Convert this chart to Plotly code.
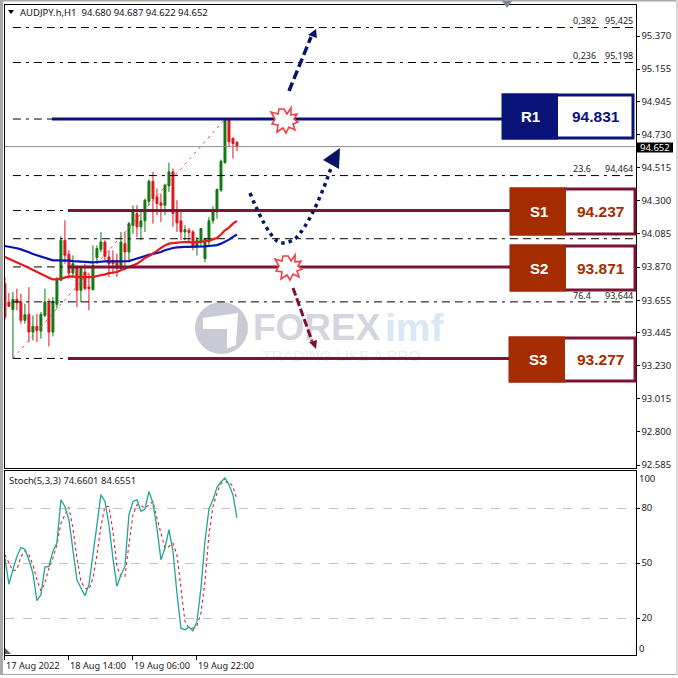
import plotly.graph_objects as go

W = H = 678
OPEN = [93.762,93.643,93.595,93.660,93.643,93.524,93.563,93.448,93.485,93.454,93.556,93.636,93.448,93.628,93.784,94.044,93.953,93.831,93.860,93.719,93.838,93.740,93.723,93.931,93.985,94.033,93.936,93.914,93.914,93.860,94.022,93.968,94.141,94.217,94.131,94.170,94.297,94.427,94.326,94.287,94.271,94.397,94.488,94.228,94.170,94.098,94.109,94.098,94.007,94.033,93.925,94.033,94.170,94.228,94.369,94.547,94.824,94.707,94.680]
HIGH = [93.805,93.701,93.708,93.730,93.697,93.632,93.740,93.556,93.567,93.578,93.730,93.665,93.675,93.805,94.070,94.174,93.979,93.946,93.881,93.860,93.892,93.827,94.011,94.011,94.098,94.044,93.979,93.979,93.957,94.098,94.098,94.163,94.271,94.271,94.228,94.315,94.438,94.488,94.380,94.347,94.412,94.547,94.510,94.304,94.228,94.141,94.124,94.109,94.066,94.120,94.055,94.196,94.265,94.380,94.568,94.824,94.824,94.707,94.687]
LOW = [93.524,93.615,93.275,93.589,93.502,93.502,93.383,93.394,93.383,93.405,93.545,93.355,93.420,93.600,93.784,93.892,93.795,93.805,93.610,93.643,93.719,93.589,93.719,93.892,93.968,93.914,93.805,93.827,93.805,93.849,93.849,93.914,94.087,94.066,94.044,94.098,94.271,94.152,94.206,94.163,94.206,94.358,94.131,94.098,94.044,94.044,94.033,93.979,93.946,94.001,93.903,94.001,94.152,94.185,94.358,94.542,94.651,94.575,94.622]
CLOSE = [93.545,93.615,93.660,93.639,93.524,93.561,93.448,93.485,93.459,93.563,93.643,93.448,93.643,93.784,94.044,93.946,93.831,93.892,93.719,93.860,93.730,93.730,93.881,93.990,94.033,93.940,93.892,93.892,93.860,94.033,93.968,94.152,94.228,94.131,94.170,94.304,94.427,94.315,94.282,94.271,94.401,94.488,94.217,94.157,94.098,94.113,94.094,94.001,94.044,94.120,94.055,94.170,94.228,94.373,94.557,94.824,94.683,94.672,94.652]
MA_BLUE = [94.007,94.003,93.998,93.992,93.985,93.977,93.966,93.955,93.946,93.938,93.929,93.920,93.914,93.914,93.914,93.914,93.912,93.909,93.907,93.905,93.903,93.901,93.901,93.903,93.907,93.907,93.907,93.907,93.907,93.907,93.907,93.909,93.918,93.927,93.936,93.942,93.949,93.955,93.961,93.968,93.979,93.988,93.994,93.998,94.001,94.001,94.001,94.001,94.001,94.001,94.005,94.007,94.009,94.013,94.022,94.033,94.048,94.066,94.081]
MA_RED = [93.936,93.923,93.909,93.899,93.888,93.877,93.864,93.849,93.836,93.825,93.814,93.801,93.790,93.790,93.795,93.803,93.810,93.808,93.805,93.805,93.805,93.805,93.805,93.812,93.816,93.823,93.831,93.836,93.838,93.849,93.860,93.866,93.877,93.892,93.909,93.929,93.942,93.957,93.975,93.994,94.011,94.022,94.027,94.029,94.031,94.033,94.033,94.029,94.031,94.033,94.037,94.042,94.048,94.059,94.081,94.109,94.126,94.152,94.170]
STOCH_MAIN = [52.7,38.5,46.4,53.6,58.5,57.6,51.8,44.5,29.5,32.7,47.8,48.2,56.4,60.9,84.5,80.9,73.6,56.4,40.9,36.4,32.2,38.2,54.5,70.9,87.3,83.6,70.9,52.7,37.3,43.6,48.2,76.4,83.6,84.5,78.2,79.5,89.1,82.7,69.1,51.8,58.2,68.2,56.4,33.6,14.5,13.6,15.1,13.1,18.2,36.4,61.8,79.6,84.5,91.3,94.2,96.4,92.7,87.3,74.66]
STOCH_SIGNAL = [54.5,50.0,45.8,46.4,53.6,56.7,54.5,49.1,40.9,34.9,39.1,47.3,52.7,60.0,71.8,76.4,80.4,69.1,52.7,40.0,36.4,35.5,41.8,54.5,70.0,80.9,80.9,67.3,48.2,42.7,42.7,60.0,76.4,81.8,81.5,80.0,81.8,83.6,74.5,65.5,58.2,59.1,60.9,54.5,34.5,18.2,14.5,14.5,16.0,22.7,40.0,65.5,80.9,88.2,93.6,94.2,94.5,91.8,84.66]
PRICE_TICKS = ["95.370","95.155","94.945","94.730","94.515","94.300","94.085","93.870","93.655","93.445","93.230","93.015","92.800","92.585"]
TIME_TICKS = [0, 16, 32, 48]
TIME_LABELS = ["17 Aug 2022", "18 Aug 14:00", "19 Aug 06:00", "19 Aug 22:00"]
FIBO_LEVELS = [95.425, 95.198, 94.831, 94.464, 94.237, 94.054, 93.871, 93.644, 93.277]
FIBO_TEXT = [("0,382","95,425",95.425),("0,236","95,198",95.198),("23.6","94,464",94.464),("50.0","94,054",94.054),("76.4","93,644",93.644)]
LEVEL_NAMES = ["R1", "S1", "S2", "S3"]
LEVEL_VALUES = [94.831, 94.237, 93.871, 93.277]
LAST_PRICE = 94.652
TITLE = "AUDJPY.h,H1  94.680 94.687 94.622 94.652"
STOCH_TITLE = "Stoch(5,3,3) 74.6601 84.6551"

FONT = "Noto Sans"
NAVY = "#0a1478"
MAROON = "#7d1434"
RUST = "#a52c00"
SY = 678 / 675  # the photographed page comes out about 3 px shorter

def X(p): return p / W
def Y(p): return 1 - p * SY / H
def pt(c): return f"{X(c[0]):.5f},{Y(c[1]):.5f}"
def poly(pts):
    return "M " + pt(pts[0]) + " " + " ".join("L " + pt(p) for p in pts[1:]) + " Z"
def line_path(a, b):
    return "M " + pt(a) + " L " + pt(b)
def rect(x0, y0, x1, y1, fill=None, line=None, lw=0, layer="above"):
    return dict(type="rect", xref="paper", yref="paper", x0=X(x0), x1=X(x1), y0=Y(y0), y1=Y(y1),
                fillcolor=fill or "rgba(0,0,0,0)", line=dict(color=line or "rgba(0,0,0,0)", width=lw), layer=layer)
def pth(d, fill=None, line=None, lw=0, dash=None, layer="above"):
    return dict(type="path", xref="paper", yref="paper", path=d, fillcolor=fill or "rgba(0,0,0,0)",
                line=dict(color=line or "rgba(0,0,0,0)", width=lw, dash=dash), layer=layer)
def txt(x, y, s, size=10, color="#222", bold=False, anchor="left", font=FONT, **kw):
    return dict(xref="paper", yref="paper", x=X(x), y=Y(y), text=f"<b>{s}</b>" if bold else s, showarrow=False,
                xanchor=anchor, yanchor="middle", font=dict(family=font, size=size, color=color), borderpad=0, borderwidth=0, **kw)
def wm(bar, price, s, size, color):
    return go.Scatter(x=[bar], y=[price], text=[s], mode="text", textposition="middle right", xaxis="x", yaxis="y",
                      textfont=dict(family="Liberation Sans", size=size, color=color), hoverinfo="skip")

fig = go.Figure()
bars = list(range(len(OPEN)))
right_bar = 157.6

# watermark text lies under every mark
fig.add_trace(wm(62, 93.455, "<b>FOREX</b>", 37, "#d4d5dd"))
fig.add_trace(wm(95, 93.455, "<b>imf</b>", 39, "#d9e8f2"))
fig.add_trace(wm(64.25, 93.283, "TRADING LIKE A PRO", 15.5, "#eeeef2"))

for lv in FIBO_LEVELS:
    fig.add_trace(go.Scatter(x=[2, right_bar], y=[lv, lv], mode="lines", xaxis="x", yaxis="y",
                             line=dict(color="#000", width=1, dash="8px,5px,3px,5px,8px,5px"), hoverinfo="skip"))
fig.add_trace(go.Scatter(x=[2, 55], y=[FIBO_LEVELS[-1], FIBO_LEVELS[2]], mode="lines", xaxis="x", yaxis="y",
                         line=dict(color="#e8555a", width=1, dash="3px,4px"), hoverinfo="skip"))
fig.add_trace(go.Scatter(x=[-0.25, right_bar], y=[LAST_PRICE, LAST_PRICE], mode="lines", xaxis="x", yaxis="y",
                         line=dict(color="#8c9090", width=1), hoverinfo="skip"))
fx0 = [142.0]*len(FIBO_TEXT); fx1 = [150.0]*len(FIBO_TEXT)
fy = [t[2] + 0.036 for t in FIBO_TEXT]
fig.add_trace(go.Scatter(x=fx0, y=fy, text=[t[0] for t in FIBO_TEXT], mode="text", textposition="middle right",
                         textfont=dict(family=FONT, size=9, color="#222"), xaxis="x", yaxis="y", hoverinfo="skip"))
fig.add_trace(go.Scatter(x=fx1, y=fy, text=[t[1] for t in FIBO_TEXT], mode="text", textposition="middle right",
                         textfont=dict(family=FONT, size=9, color="#222"), xaxis="x", yaxis="y", hoverinfo="skip"))
fig.add_trace(go.Candlestick(x=bars, open=OPEN, high=HIGH, low=LOW, close=CLOSE, xaxis="x", yaxis="y",
                             increasing=dict(line=dict(color="#0f7a12", width=1), fillcolor="#0f7a12"),
                             decreasing=dict(line=dict(color="#e0141c", width=1), fillcolor="#e0141c"),
                             whiskerwidth=0, hoverinfo="skip"))
fig.add_trace(go.Scatter(x=bars, y=MA_BLUE, mode="lines", line=dict(color="#0a14b4", width=2.2), xaxis="x", yaxis="y", hoverinfo="skip"))
fig.add_trace(go.Scatter(x=bars, y=MA_RED, mode="lines", line=dict(color="#e41a1c", width=2.2), xaxis="x", yaxis="y", hoverinfo="skip"))
fig.add_trace(go.Scatter(x=bars, y=STOCH_SIGNAL, mode="lines", line=dict(color="#e0202c", width=1.1, dash="3px,3px"), xaxis="x2", yaxis="y2", hoverinfo="skip"))
fig.add_trace(go.Scatter(x=bars, y=STOCH_MAIN, mode="lines", line=dict(color="#1fa59b", width=1.3), xaxis="x2", yaxis="y2", hoverinfo="skip"))

shapes = []
shapes.append(dict(type="circle", xref="paper", yref="paper", x0=X(195), x1=X(248), y0=Y(354), y1=Y(302),
                   fillcolor="#c9cad3", line=dict(width=0), layer="below"))
shapes.append(pth(poly([(203,318),(238,313),(236,345),(226,349),(227,329),(203,329)]), fill="#ffffff", layer="below"))
shapes.append(pth(poly([(227,329),(216,340),(216,350),(227,349)]), fill="#c9cad3", layer="below"))

starts = [11.75, 15.75, 15.75, 15.75]
ends = [124.5, 126.5, 126.5, 126.25]
cols = [NAVY, MAROON, MAROON, MAROON]
for name, val, s, e, c in zip(LEVEL_NAMES, LEVEL_VALUES, starts, ends, cols):
    shapes.append(dict(type="line", xref="x", yref="y", x0=s, x1=e, y0=val, y1=val, line=dict(color=c, width=3), layer="above"))

annotations = []
boxes = [(503, 558, 633, 95, 138, NAVY, NAVY, NAVY), (511, 566, 635, 189, 234, RUST, MAROON, RUST),
         (511, 566, 635, 246, 290, RUST, MAROON, RUST), (510, 565, 635, 338, 381, RUST, MAROON, RUST)]
for (x0, xm, x1, y0, y1, fill, edge, tc), name, val in zip(boxes, LEVEL_NAMES, LEVEL_VALUES):
    shapes.append(rect(x0, y0, x1, y1, fill="#ffffff", line=edge, lw=3))
    shapes.append(rect(x0-1, y0-1.5, xm, y1+1.5, fill=fill))
    annotations.append(txt((x0+xm)/2, (y0+y1)/2, name, size=15, color="#ffffff", bold=True, anchor="center", font="Liberation Sans"))
    annotations.append(txt((xm+x1)/2, (y0+y1)/2, f"{val:.3f}", size=15.5, color=tc, bold=True, anchor="center", font="Liberation Sans"))

shapes.append(pth(line_path((289,91),(311,37)), line="#0a1464", lw=3.5, dash="9px,4px"))
shapes.append(pth(poly([(316,29),(317,38),(308,35)]), fill="#0a1464"))
curve = "M " + pt((250,193)) + " Q " + pt((266,232)) + " " + pt((277,241)) + " Q " + pt((285,246)) + " " + pt((296,238)) + " Q " + pt((313,220)) + " " + pt((331,168))
shapes.append(pth(curve, line="#0a1464", lw=3.5, dash="3.5px,4px"))
shapes.append(pth(poly([(340,148),(339,169),(323,160)]), fill="#0a1464"))
shapes.append(pth(line_path((293,288),(312,341)), line="#7b1230", lw=3, dash="8px,3px"))
shapes.append(pth(poly([(316,349),(309,342),(317,340)]), fill="#7b1230"))

burst = [(0,-10),(3,-5),(7,-11),(7,-4),(13,-5),(10,0),(14,3),(9,5),(11,11),(5,8),(2,14),(-1,9),(-7,13),(-6,6),(-12,5),(-9,0),(-13,-7),(-6,-5),(-5,-10)]
for cx, cy in [(284,119), (288,266)]:
    shapes.append(pth(poly([(cx+a, cy+b) for a, b in burst]), fill="#ffffff", line="#f04048", lw=1.6))

shapes.append(rect(0, 0, 3, 675, fill="#a8a8a8"))
shapes.append(rect(0, 0, 678, 1.5, fill="#a8a8a8"))
shapes.append(rect(0, 674, 678, 675, fill="#a8a8a8"))
shapes.append(rect(676, 0, 678, 675, fill="#d8d8d8"))
shapes.append(pth(poly([(502,1),(512,1),(507,8)]), fill="#7f8a94"))
shapes.append(pth(poly([(8,10),(14,10),(11,14)]), fill="#000"))
shapes.append(pth(poly([(5,648),(11,654),(5,654)]), fill="#55606a"))
shapes.append(rect(637, 142.5, 673, 152.5, fill="#000000"))

annotations.append(txt(20, 12, TITLE, size=9.5, color="#111"))
annotations.append(txt(9, 480, STOCH_TITLE, size=9.5, color="#222"))
annotations.append(txt(655, 147.5, f"{LAST_PRICE:.3f}", size=9.5, color="#ffffff", anchor="center"))
annotations.append(txt(639, 478, "100", size=9.5, color="#222"))
annotations.append(txt(639, 648, "0", size=9.5, color="#222"))
for t, lab in zip(TIME_TICKS, TIME_LABELS):
    annotations.append(dict(xref="x2", yref="paper", x=t, y=Y(665.5), text=lab, showarrow=False, xanchor="left", yanchor="middle",
                            font=dict(family=FONT, size=9.2, color="#222"), borderpad=0))

xr = [-0.1, 157.6]
PX = 154.05
ax = dict(showline=True, linecolor="#000", linewidth=1, mirror=True, showgrid=False, zeroline=False)
fig.update_layout(
    width=W, height=H, margin=dict(l=0, r=0, t=0, b=0), paper_bgcolor="#fff", plot_bgcolor="#fff", showlegend=False,
    xaxis=dict(domain=[X(4.5), X(635.5)], range=xr, anchor="y", showticklabels=False, ticks="", rangeslider=dict(visible=False), **ax),
    yaxis=dict(domain=[Y(468), Y(4.5)], range=[95.37-(468-36)/PX, 95.37+(36-4.5)/PX], side="right", anchor="x",
               tickmode="array", tickvals=[float(t) for t in PRICE_TICKS], ticktext=PRICE_TICKS, ticks="outside", ticklen=3, tickcolor="#000",
               tickfont=dict(family=FONT, size=9.5, color="#222"), **ax),
    xaxis2=dict(domain=[X(4.5), X(635.5)], range=xr, anchor="y2", tickmode="array", tickvals=TIME_TICKS, ticktext=[""]*4,
                ticks="outside", ticklen=4, tickcolor="#000", **ax),
    yaxis2=dict(domain=[Y(655), Y(470.5)], range=[-0.1, 100.5], side="right", anchor="x2", tickmode="array",
                tickvals=[20, 50, 80], ticks="outside", ticklen=3, tickcolor="#000",
                tickfont=dict(family=FONT, size=9.5, color="#222"),
                showline=True, linecolor="#000", linewidth=1, mirror=True, zeroline=False,
                showgrid=True, gridcolor="#c4c4c4", griddash="dash", gridwidth=1),
    shapes=shapes, annotations=annotations,
)
fig.write_html("out.html", post_script="document.body.style.margin='0';", config=dict(displayModeBar=False))
